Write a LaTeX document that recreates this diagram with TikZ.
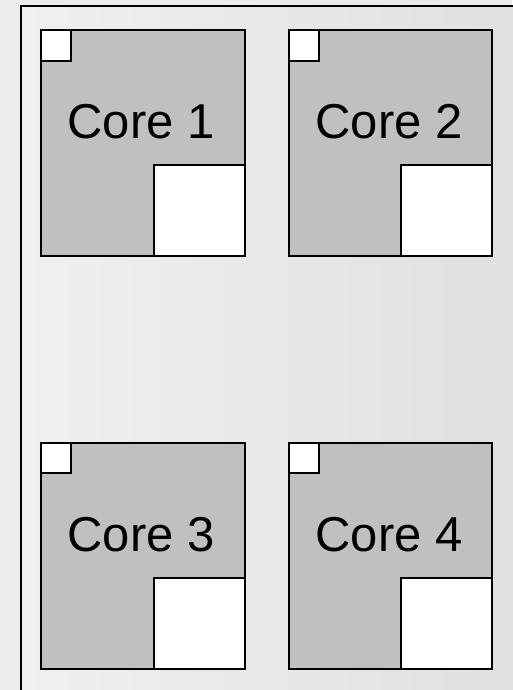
\documentclass[tikz,border=0pt]{standalone}
\usepackage{fontspec}
\setmainfont{Liberation Sans}
\begin{document}
\begin{tikzpicture}[x=1pt,y=-1pt,
  corebox/.style={draw=black,line width=2.5pt,fill=coregray},
  cachebox/.style={draw=black,line width=2.5pt,fill=white},
  corelabel/.style={font=\fontsize{49}{58}\selectfont,text=black,inner sep=0pt}]
\definecolor{coregray}{RGB}{192,192,192}
\definecolor{outergray}{RGB}{236,236,236}
\useasboundingbox (0,0) rectangle (512,690);
\fill[outergray] (0,0) rectangle (512,690);
\shade[left color={rgb,255:red,240;green,240;blue,240}, right color={rgb,255:red,224;green,224;blue,224}] (21,6) rectangle (520,700);
\draw[line width=2pt] (21,700) -- (21,6) -- (520,6);
% Core 1
\draw[corebox] (41,30) rectangle (245,256);
\draw[cachebox] (41,30) rectangle (71,61);
\draw[cachebox] (154,165) rectangle (245,256);
\node[corelabel] (c1) at (141,122) {Core 1};
% Core 2
\draw[corebox] (289,30) rectangle (492,256);
\draw[cachebox] (289,30) rectangle (319,61);
\draw[cachebox] (401,165) rectangle (492,256);
\node[corelabel] (c2) at (389,122) {Core 2};
% Core 3
\draw[corebox] (41,443) rectangle (245,669);
\draw[cachebox] (41,443) rectangle (71,473);
\draw[cachebox] (154,578) rectangle (245,669);
\node[corelabel] (c3) at (141,535) {Core 3};
% Core 4
\draw[corebox] (289,443) rectangle (492,669);
\draw[cachebox] (289,443) rectangle (319,473);
\draw[cachebox] (401,578) rectangle (492,669);
\node[corelabel] (c4) at (389,535) {Core 4};
\end{tikzpicture}
\end{document}
